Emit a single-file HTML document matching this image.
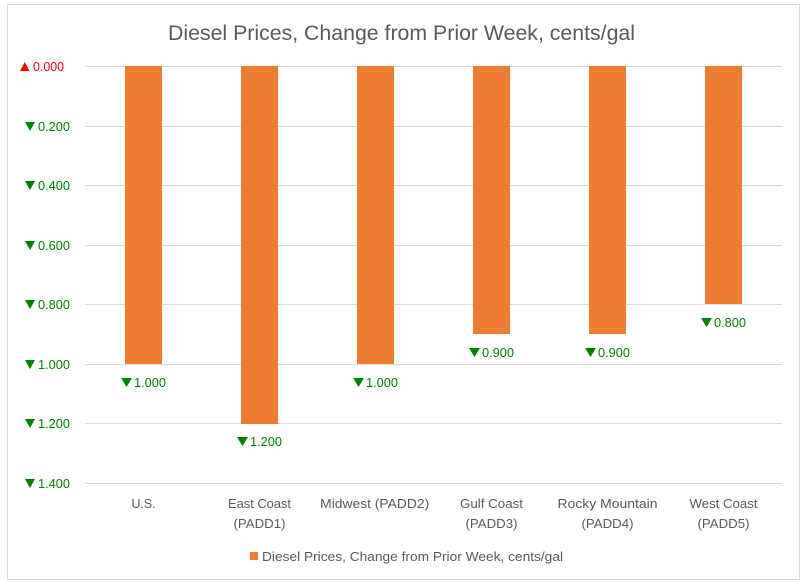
<!DOCTYPE html>
<html><head><meta charset="utf-8"><style>
html,body{margin:0;padding:0;background:#fff;}
svg{display:block;}
text{font-family:"Liberation Sans",Arial,sans-serif;}
</style></head><body>
<svg width="808" height="586" viewBox="0 0 808 586" xmlns="http://www.w3.org/2000/svg">
<rect x="0" y="0" width="808" height="586" fill="#fff"/>
<rect x="7.5" y="4.5" width="792" height="575" fill="#fff" stroke="#d9d9d9" stroke-width="1"/>
<text x="168" y="40" font-size="21" fill="#595959" textLength="467" lengthAdjust="spacingAndGlyphs">Diesel Prices, Change from Prior Week, cents/gal</text>
<g stroke="#d9d9d9" stroke-width="1">
<line x1="85" x2="782" y1="66.5" y2="66.5"/>
<line x1="85" x2="782" y1="126.5" y2="126.5"/>
<line x1="85" x2="782" y1="185.5" y2="185.5"/>
<line x1="85" x2="782" y1="245.5" y2="245.5"/>
<line x1="85" x2="782" y1="304.5" y2="304.5"/>
<line x1="85" x2="782" y1="364.5" y2="364.5"/>
<line x1="85" x2="782" y1="423.5" y2="423.5"/>
<line x1="85" x2="782" y1="483.5" y2="483.5"/>
</g>
<g fill="#ED7D31">
<rect x="125" y="66" width="37" height="298"/>
<rect x="241" y="66" width="37" height="358"/>
<rect x="357" y="66" width="37" height="298"/>
<rect x="473" y="66" width="37" height="268"/>
<rect x="589" y="66" width="37" height="268"/>
<rect x="705" y="66" width="37" height="238"/>
</g>
<!-- y axis labels -->
<polygon points="20,71 29.5,71 24.75,62" fill="#ff0000"/>
<text x="64" y="71" font-size="12.5" fill="#ff0000" text-anchor="end" textLength="31" lengthAdjust="spacingAndGlyphs">0.000</text>
<g fill="#008000" font-size="12.5">
<polygon points="25,122 35,122 30,131"/>
<text x="70" y="131" text-anchor="end" textLength="32" lengthAdjust="spacingAndGlyphs">0.200</text>
<polygon points="25,181 35,181 30,190"/>
<text x="70" y="190" text-anchor="end" textLength="32" lengthAdjust="spacingAndGlyphs">0.400</text>
<polygon points="25,241 35,241 30,250"/>
<text x="70" y="250" text-anchor="end" textLength="32" lengthAdjust="spacingAndGlyphs">0.600</text>
<polygon points="25,300 35,300 30,309"/>
<text x="70" y="309" text-anchor="end" textLength="32" lengthAdjust="spacingAndGlyphs">0.800</text>
<polygon points="25,360 35,360 30,369"/>
<text x="70" y="369" text-anchor="end" textLength="32" lengthAdjust="spacingAndGlyphs">1.000</text>
<polygon points="25,419 35,419 30,428"/>
<text x="70" y="428" text-anchor="end" textLength="32" lengthAdjust="spacingAndGlyphs">1.200</text>
<polygon points="25,479 35,479 30,488"/>
<text x="70" y="488" text-anchor="end" textLength="32" lengthAdjust="spacingAndGlyphs">1.400</text>
</g>
<!-- value labels -->
<g fill="#008000" font-size="12.5">
<polygon points="121,378 132,378 126.5,387"/>
<text x="134" y="387" textLength="32" lengthAdjust="spacingAndGlyphs">1.000</text>
<polygon points="237,437 248,437 242.5,446"/>
<text x="250" y="446" textLength="32" lengthAdjust="spacingAndGlyphs">1.200</text>
<polygon points="353,378 364,378 358.5,387"/>
<text x="366" y="387" textLength="32" lengthAdjust="spacingAndGlyphs">1.000</text>
<polygon points="469,348 480,348 474.5,357"/>
<text x="482" y="357" textLength="32" lengthAdjust="spacingAndGlyphs">0.900</text>
<polygon points="585,348 596,348 590.5,357"/>
<text x="598" y="357" textLength="32" lengthAdjust="spacingAndGlyphs">0.900</text>
<polygon points="701,318 712,318 706.5,327"/>
<text x="714" y="327" textLength="32" lengthAdjust="spacingAndGlyphs">0.800</text>
</g>
<!-- category labels -->
<g fill="#595959" font-size="12.5" text-anchor="middle">
<text x="143.5" y="508" textLength="24" lengthAdjust="spacingAndGlyphs">U.S.</text>
<text x="259.5" y="508" textLength="63" lengthAdjust="spacingAndGlyphs">East Coast</text>
<text x="259.5" y="528" textLength="52" lengthAdjust="spacingAndGlyphs">(PADD1)</text>
<text x="374.7" y="508" textLength="109" lengthAdjust="spacingAndGlyphs">Midwest (PADD2)</text>
<text x="491.5" y="508" textLength="63" lengthAdjust="spacingAndGlyphs">Gulf Coast</text>
<text x="491.5" y="528" textLength="52" lengthAdjust="spacingAndGlyphs">(PADD3)</text>
<text x="607.5" y="508" textLength="100" lengthAdjust="spacingAndGlyphs">Rocky Mountain</text>
<text x="607.5" y="528" textLength="52" lengthAdjust="spacingAndGlyphs">(PADD4)</text>
<text x="723.5" y="508" textLength="68" lengthAdjust="spacingAndGlyphs">West Coast</text>
<text x="723.5" y="528" textLength="52" lengthAdjust="spacingAndGlyphs">(PADD5)</text>
</g>
<!-- legend -->
<rect x="250" y="552" width="8" height="8" fill="#ED7D31"/>
<text x="262" y="561" font-size="12.5" fill="#595959" textLength="301" lengthAdjust="spacingAndGlyphs">Diesel Prices, Change from Prior Week, cents/gal</text>
</svg>
</body></html>
